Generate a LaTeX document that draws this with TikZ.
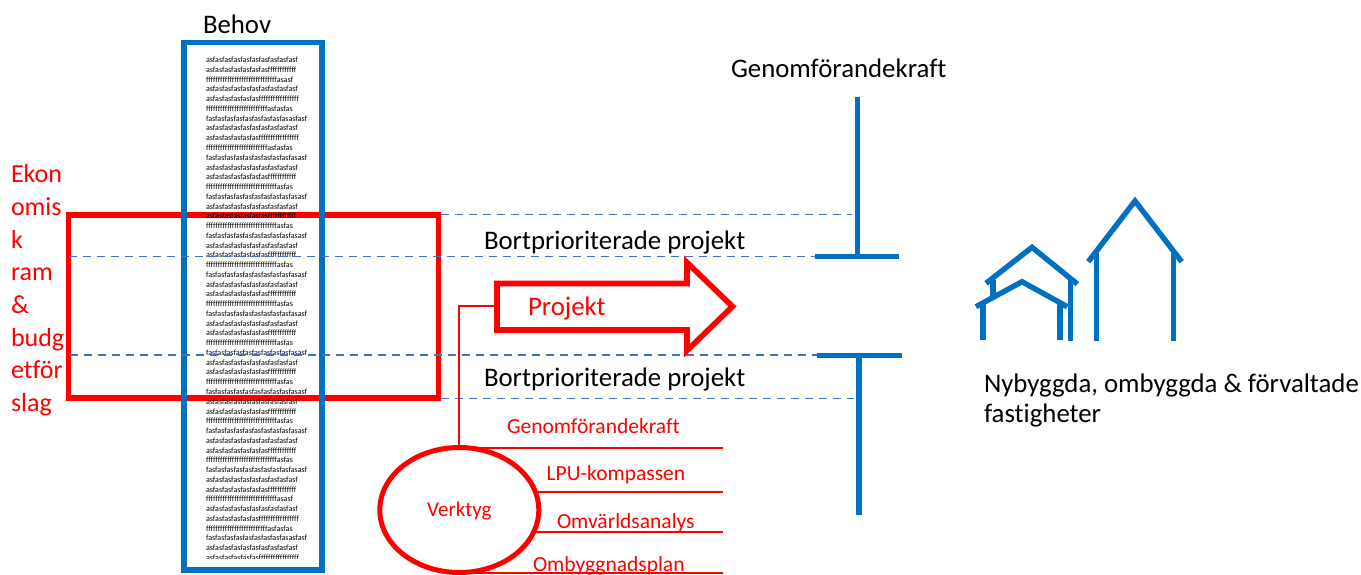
\documentclass[tikz,border=0pt]{standalone}
\usepackage{fontspec}
\setmainfont[Ligatures=NoCommon]{Carlito}
\usetikzlibrary{shapes.geometric}
\definecolor{bl}{HTML}{0070C0}
\definecolor{da}{HTML}{4472C4}
\definecolor{rd}{HTML}{FF0000}
\newcommand{\Aa}{asfasfasfasfasfasfasfasfasfasf}
\newcommand{\Bb}{asfasfasfasfasfasfasffffffffffff}
\newcommand{\Cc}{ffffffffffffffffffffffffffffffasasf}
\newcommand{\Dd}{asfasfasfasfasfasfffffffffffffffff}
\newcommand{\Ee}{ffffffffffffffffffffffffffasfasfas}
\newcommand{\Ff}{fasfasfasfasfasfasfasfasfasasfasf}
\newcommand{\Gg}{ffffffffffffffffffffffffffffffasfas}
\newcommand{\Hh}{fasfasfasfasfasfasfasfasfasfasasf}
\newcommand{\Qq}{\Aa\\\Bb\\\Gg\\\Hh\\}
\tikzset{
  x=1pt,y=-1pt,
  every node/.style={inner sep=0pt,outer sep=0pt},
  bigtxt/.style={font=\fontsize{26.8}{31}\selectfont,anchor=base west},
  redtxt/.style={font=\fontsize{21.5}{25}\selectfont,anchor=base west,text=rd},
  redbox/.style={draw=rd,line width=5.6pt,miter limit=10},
  bluebox/.style={draw=bl,line width=5.6pt},
  bluel/.style={draw=bl,line width=5.4pt},
  house/.style={draw=bl,line width=5.4pt},
  dashln/.style={draw=da,line width=1.8pt,dash pattern=on 8.3pt off 5.7pt},
  redl/.style={draw=rd,line width=1.9pt},
}
\begin{document}
\begin{tikzpicture}
\useasboundingbox (0,0) rectangle (1361,574);
\fill[white] (0,0) rectangle (1361,574);
% red frame and blue column
\node[redbox,rectangle,minimum width=370pt,minimum height=183.3pt,anchor=north west] (ram) at (68.5,214.7) {};
\node[bluebox,rectangle,minimum width=138.2pt,minimum height=527.5pt,anchor=north west] (beh) at (183.8,42.5) {};
\begin{scope}
\clip (190,50) rectangle (316,558);
\node[font=\fontsize{8}{9.76}\selectfont,align=left,anchor=base west] (lst) at (206,560.4) {\Aa\\\Bb\\\Cc\\\Aa\\\Dd\\\Ee\\\Ff\\\Aa\\\Dd\\\Ee\\\Hh\\\Qq\Qq\Qq\Qq\Qq\Qq\Qq\Qq\Aa\\\Bb\\\Cc\\\Aa\\\Dd\\\Ee\\\Ff\\\Aa\\\Dd};
\end{scope}
\node[bigtxt] (tb) at (203,33) {Behov};
% left label
\node[redtxt,font=\fontsize{26}{32.7}\selectfont,align=left,anchor=base west] (ek) at (11,411.6) {Ekon\\omis\\k\\ram\\\&\\budg\\etför\\slag};
% dashed
\coordinate (d1a) at (441,214.4); \coordinate (d1b) at (852,214.4);
\coordinate (d2a) at (68.5,256.5); \coordinate (d2b) at (815,256.5);
\coordinate (d3a) at (69.5,355.3); \coordinate (d3b) at (817,355.3);
\coordinate (d4a) at (441,398.4); \coordinate (d4b) at (854,398.4);
\draw[dashln] (d1a) -- (d1b);
\draw[dashln] (d2a) -- (d2b);
\draw[dashln] (d3a) -- (d3b);
\draw[dashln] (d4a) -- (d4b);
% T bars
\coordinate (t1) at (857.3,96.7); \coordinate (t2) at (857.3,256.5);
\coordinate (t1l) at (815,256.5); \coordinate (t1r) at (899.3,256.5);
\coordinate (t3) at (859,355.5); \coordinate (t4) at (859,515);
\coordinate (t3l) at (817,355.5); \coordinate (t3r) at (901.7,355.5);
\draw[bluel] (t1) -- (t2); \draw[bluel] (t1l) -- (t1r);
\draw[bluel] (t3) -- (t4); \draw[bluel] (t3l) -- (t3r);
\node[bigtxt] (gk) at (731,77) {Genomförandekraft};
\node[bigtxt] (bp1) at (484,249) {Bortprioriterade projekt};
\node[bigtxt] (bp2) at (484,386) {Bortprioriterade projekt};
% arrow
\coordinate (a1) at (497,283.5); \coordinate (a2) at (687,283.5); \coordinate (a3) at (687,262.5);
\coordinate (a4) at (732.5,306.5); \coordinate (a5) at (687,350.5); \coordinate (a6) at (687,330); \coordinate (a7) at (497,330);
\coordinate (ac) at (497,306);
\draw[redbox] (a1) -- (a2) -- (a3) -- (a4) -- (a5) -- (a6) -- (a7) -- cycle;
\node[redtxt,font=\fontsize{26.8}{31}\selectfont] (pj) at (528,315) {Projekt};
% tools
\node[ellipse,draw=rd,line width=5pt,minimum width=159pt,minimum height=125pt] (v) at (459.3,510) {};
\node[text=rd,font=\fontsize{21}{25}\selectfont,anchor=base] (vt) at (459.3,516.7) {Verktyg};
\draw[redl] (ac) -| (v.north);
\coordinate (l1a) at (478,447.7); \coordinate (l1b) at (722.7,447.7);
\coordinate (l2a) at (535,491.7); \coordinate (l2b) at (722.7,491.7);
\coordinate (l3a) at (533,531.7); \coordinate (l3b) at (722.7,531.7);
\coordinate (l4a) at (470,572.7); \coordinate (l4b) at (722.7,572.7);
\draw[redl] (l1a) -- (l1b);
\draw[redl] (l2a) -- (l2b);
\draw[redl] (l3a) -- (l3b);
\draw[redl] (l4a) -- (l4b);
\node[redtxt] (r1) at (507,433.5) {Genomförandekraft};
\node[redtxt] (r2) at (546.7,480) {LPU-kompassen};
\node[redtxt] (r3) at (557,528) {Omvärldsanalys};
\node[redtxt] (r4) at (533,571.5) {Ombyggnadsplan};
% houses
\draw[house] (983,339.5) -- (983,303);
\draw[house] (1060,339.5) -- (1060,303);
\draw[house] (1070.3,340.7) -- (1070.3,278);
\draw[house] (993,296) -- (993,280);
\draw[house] (1096.3,340.7) -- (1096.3,253);
\draw[house] (1173.3,340.7) -- (1173.3,253);
\draw[house] (976,306.7) -- (1022,281.7) -- (1067.3,306.7);
\draw[house] (986,283.3) -- (1032,247.3) -- (1077.3,284);
\draw[house] (1088.3,261.7) -- (1135,201) -- (1181.7,261.7);
\node[bigtxt] (nb1) at (984,392) {Nybyggda, ombyggda \& förvaltade};
\node[bigtxt] (nb2) at (984,422) {fastigheter};
\end{tikzpicture}
\end{document}
